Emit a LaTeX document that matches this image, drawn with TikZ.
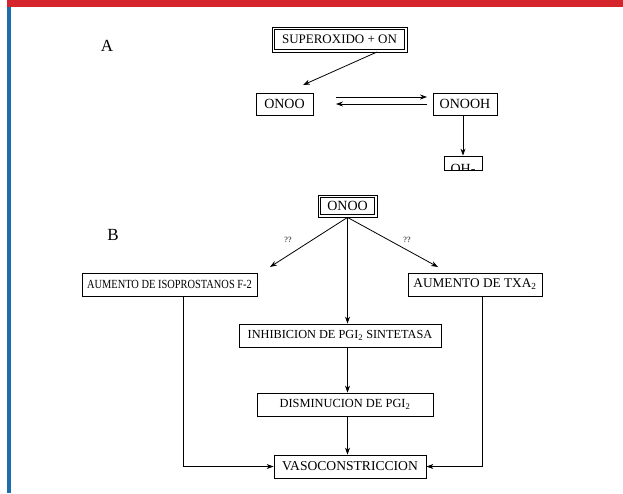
\documentclass[tikz,border=0pt]{standalone}
\usepackage{fontspec}
\setmainfont{Liberation Serif}
\usetikzlibrary{arrows.meta}
\definecolor{topred}{RGB}{213,36,44}
\definecolor{sideblue}{RGB}{30,110,170}
\newcommand{\fs}[1]{\fontsize{#1}{#1}\selectfont}
\tikzset{
  box/.style={draw=black, line width=0.8pt, inner sep=0pt, minimum height=22pt, font=\fs{12}},
  inbox/.style={draw=black, line width=0.7pt},
  arr/.style={line width=0.8pt, -{Stealth[length=7pt,width=5pt]}},
  ln/.style={line width=0.8pt},
  lbl/.style={inner sep=0pt, font=\fs{17}},
  qq/.style={inner sep=0pt, font=\fs{8}, anchor=base}
}
\begin{document}
\begin{tikzpicture}[x=1pt,y=-1pt]
\useasboundingbox (0,0) rectangle (623,493);
\fill[white] (0,0) rectangle (623,493);
\fill[topred] (7,0) rectangle (623,7);
\fill[sideblue] (7,7) rectangle (11,493);

\node[lbl] (la) at (107,46) {A};
\node[lbl] (lb) at (113,235) {B};

% Part A
\node[box, minimum width=135pt, minimum height=25pt, font=\fs{13}] (sup) at (339.5,39.5) {SUPEROXIDO + ON};
\draw[inbox] ([xshift=2.6pt,yshift=-2.6pt]sup.north west) rectangle ([xshift=-2.6pt,yshift=2.6pt]sup.south east);
\node[box, minimum width=57pt, font=\fs{14}] (onooa) at (284.5,104) {ONOO};
\node[box, minimum width=64pt, font=\fs{14}] (onooh) at (465,104) {ONOOH};
\coordinate (supout) at (377,52);
\coordinate (onooin) at (303,85);
\draw[arr] (supout) -- (onooin);
\coordinate (f1) at (336,97);
\coordinate (f2) at (427,97);
\coordinate (b1) at (427,104);
\coordinate (b2) at (336,104);
\draw[arr] (f1) -- (f2);
\draw[arr] (b1) -- (b2);
\node[box, minimum width=38pt, minimum height=14pt] (oh) at (463,163) {};
\begin{scope}
\clip (oh.north west) rectangle (oh.south east);
\node[inner sep=0pt, font=\fs{14}, anchor=base] (ohtext) at (463,173.5) {OH-};
\end{scope}
\draw[arr] (onooh.south -| oh.north) -- (oh.north);

% Part B
\node[box, minimum width=59pt, minimum height=22pt, font=\fs{14}] (onoob) at (347.5,206) {ONOO};
\draw[inbox] ([xshift=2.6pt,yshift=-2.6pt]onoob.north west) rectangle ([xshift=-2.6pt,yshift=2.6pt]onoob.south east);
\node[box, minimum width=175pt, minimum height=23pt, font=\fs{12.4}] (iso) at (169.5,284.5) {\scalebox{0.84}[1]{AUMENTO DE ISOPROSTANOS F-2}};
\node[box, minimum width=134pt, minimum height=23pt, font=\fs{13.3}] (txa) at (475,284.5) {AUMENTO DE TXA\textsubscript{2}};
\node[box, minimum width=202pt, minimum height=23pt, font=\fs{12.3}] (inh) at (340,335.5) {INHIBICION DE PGI\textsubscript{2} SINTETASA};
\node[box, minimum width=176pt, minimum height=23pt, font=\fs{12.4}] (dis) at (345,404.5) {DISMINUCION DE PGI\textsubscript{2}};
\node[box, minimum width=152pt, minimum height=23pt, font=\fs{13.6}] (vaso) at (350,466.5) {VASOCONSTRICCION};

\coordinate (isoin) at (270,267);
\coordinate (txain) at (438,267);
\draw[arr] (onoob.south) -- (isoin);
\draw[arr] (onoob.south) -- (txain);
\draw[arr] (onoob.south) -- (onoob.south |- inh.north);
\draw[arr] (inh.south -| onoob.south) -- (onoob.south |- dis.north);
\draw[arr] (dis.south -| onoob.south) -- (onoob.south |- vaso.north);
\coordinate (isodown) at (183,296);
\coordinate (txadown) at (482,296);
\draw[arr] (isodown) |- (vaso.west);
\draw[arr] (txadown) |- (vaso.east);

% small labels on the diagonal arrows
\node[qq] (q1) at (288,242) {??};
\node[qq] (q2) at (407,242) {??};
\end{tikzpicture}
\end{document}
